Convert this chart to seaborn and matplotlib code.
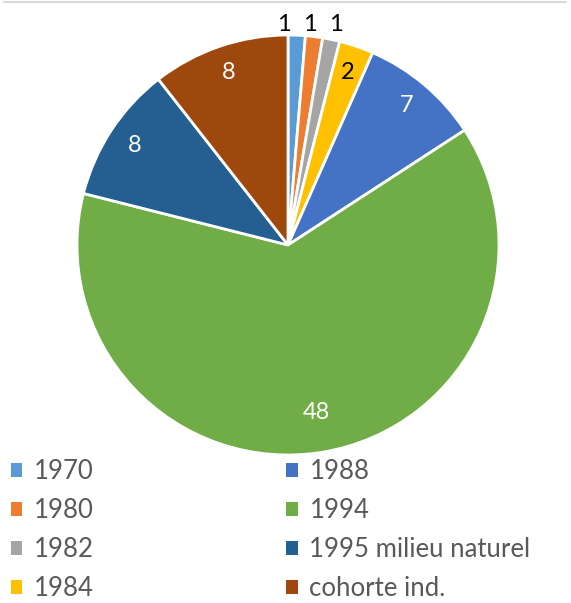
import numpy as np
import matplotlib
matplotlib.use("Agg")
import matplotlib.pyplot as plt
import seaborn as sns
from matplotlib.lines import Line2D
from matplotlib.patches import Patch

categories = ['1970', '1980', '1982', '1984', '1988', '1994', '1995 milieu naturel', 'cohorte ind.']
values = [1, 1, 1, 2, 7, 48, 8, 8]
colors = ['#5B9BD5', '#ED7D31', '#A5A5A5', '#FFC000', '#4472C4', '#70AD47', '#255E91', '#9E480E']

sns.set_style("white")
plt.rcParams['font.family'] = ['Lato', 'DejaVu Sans']

fig = plt.figure(figsize=(5.71, 6.03), dpi=100)
ax = fig.add_axes([77 / 571, (603 - 455) / 603, 422 / 571, 420 / 603])

wedges, _ = ax.pie(values, colors=colors, startangle=90, counterclock=False,
                   wedgeprops=dict(edgecolor='white', linewidth=2))
ax.set_xlim(-1, 1)
ax.set_ylim(-1, 1)
ax.set_aspect('auto')
ax.axis('off')

# data labels
total = sum(values)
cum = np.cumsum([0] + values)
for i, v in enumerate(values):
    mid = np.deg2rad((cum[i] + v / 2) / total * 360)
    if v == 1:
        # small slices: labels outside, in a row
        x = -0.02 + 0.123 * i
        y = 1.05
        col = 'black'
    else:
        r = 0.81 if v == 48 else 0.87
        x, y = r * np.sin(mid), r * np.cos(mid)
        col = 'black' if categories[i] == '1984' else 'white'
    ax.text(x, y, str(v), ha='center', va='center', fontsize=17, color=col)

handles = [Patch(facecolor=c, edgecolor='none') for c in colors]
leg = fig.legend(handles, categories, loc='upper left', bbox_to_anchor=(-0.013, 0.268),
                 ncol=2, frameon=False, fontsize=18.5, labelcolor='#595959',
                 handlelength=0.45, handleheight=0.45, handletextpad=0.45,
                 columnspacing=7.5, labelspacing=0.54, borderaxespad=0.3)

fig.add_artist(Line2D([4 / 571, 566 / 571], [1 - 2 / 603, 1 - 2 / 603],
                      color='#D9D9D9', linewidth=1.5))

fig.savefig('out.png', dpi=100)
